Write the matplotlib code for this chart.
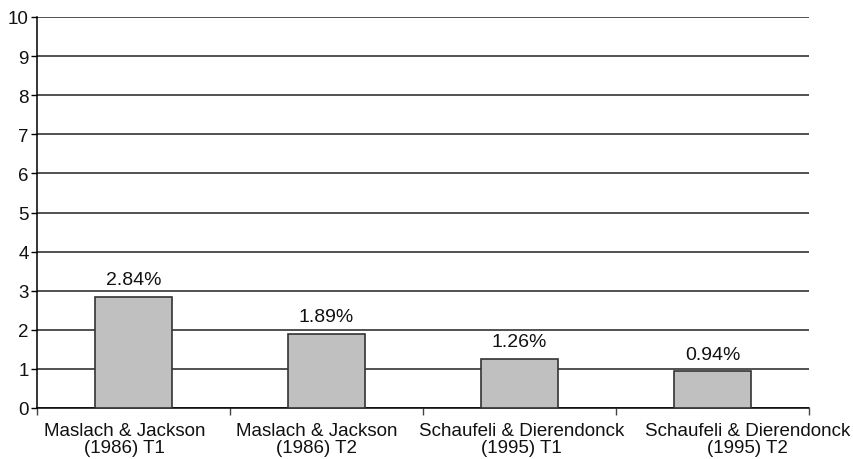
import matplotlib.pyplot as plt
import matplotlib.transforms as mtransforms
import numpy as np

categories = ["Maslach & Jackson\n(1986) T1", "Maslach & Jackson\n(1986) T2",
              "Schaufeli & Dierendonck\n(1995) T1", "Schaufeli & Dierendonck\n(1995) T2"]
values = [2.84, 1.89, 1.26, 0.94]
labels = ["2.84%", "1.89%", "1.26%", "0.94%"]

plt.rcParams['font.family'] = ['Liberation Sans', 'DejaVu Sans']

fig = plt.figure(figsize=(8.54, 4.60), dpi=100)
ax = fig.add_axes([37/854, 1-409/460, 772/854, 391/460])

x = np.arange(len(categories))
ax.bar(x, values, width=0.4, color='#c0c0c0', edgecolor='#333333', linewidth=1.2, zorder=3)
for xi, v, lab in zip(x, values, labels):
    ax.text(xi, v + 0.22, lab, ha='center', va='bottom', fontsize=14, color='#111111')

ax.set_xlim(-0.5, 3.5)
ax.set_ylim(0, 10)
ax.set_yticks(range(0, 11))
ax.yaxis.grid(True, color='#222222', linewidth=1.1, zorder=0)
ax.set_xticks(x)
ax.set_xticklabels(categories, fontsize=13.5, linespacing=1.0)
ax.set_xticks(np.arange(-0.5, 4, 1), minor=True)
ax.tick_params(axis='x', which='major', length=0, pad=10, colors='#111111')
ax.tick_params(axis='x', which='minor', length=5, width=1, color='#444444')
ax.tick_params(axis='y', length=4, width=1, labelsize=13.5, pad=2, labelcolor='#111111')
for s in ['top', 'right']:
    ax.spines[s].set_visible(False)
ax.spines['left'].set_linewidth(1.1)
ax.spines['bottom'].set_linewidth(1.1)

# labels are nudged sideways so they do not overlap (as in the original)
shifts = [-9, -10, 2, 35]
for lbl, dx in zip(ax.get_xticklabels(), shifts):
    lbl.set_transform(lbl.get_transform() + mtransforms.ScaledTranslation(dx / 100, 0, fig.dpi_scale_trans))

fig.savefig('out.png', dpi=100)
